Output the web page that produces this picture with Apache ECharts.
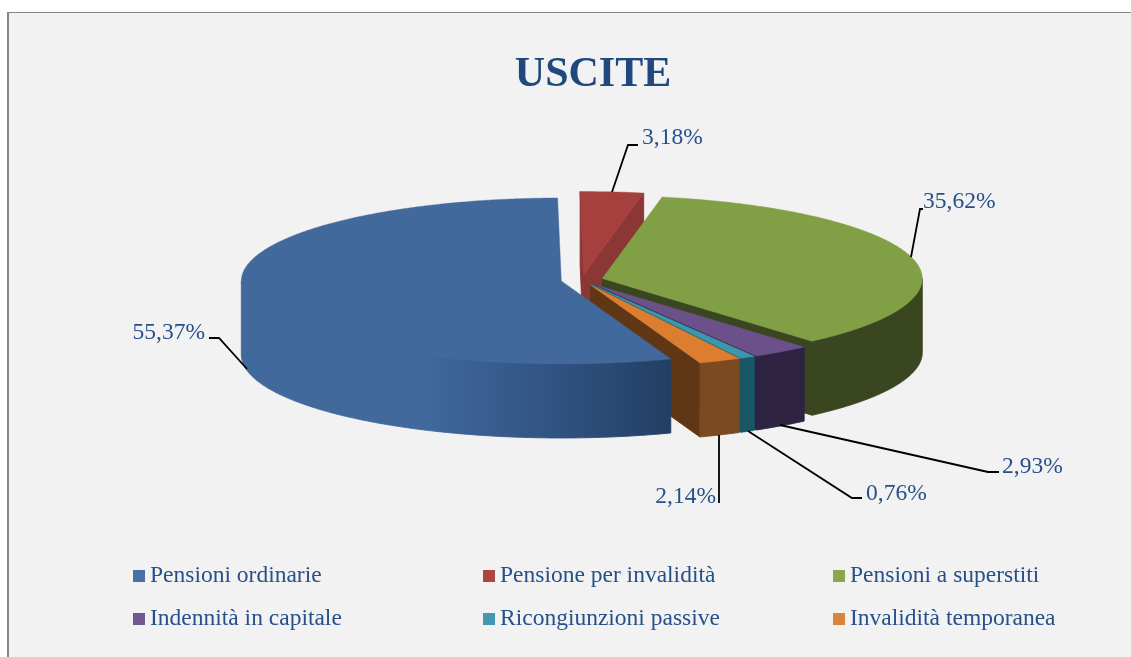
<!DOCTYPE html>
<html><head><meta charset="utf-8">
<style>html,body{margin:0;padding:0;background:#fff}#c{width:1131px;height:657px}</style>
<script src="https://cdn.jsdelivr.net/npm/echarts@6/dist/echarts.min.js"></script>
</head><body><div id="c"></div>
<script>
// ---- data ----
const chartTitle = 'USCITE';
const categories = ['Pensioni ordinarie','Pensione per invalidità','Pensioni a superstiti','Indennità in capitale','Ricongiunzioni passive','Invalidità temporanea'];
const shares = [55.37, 3.18, 35.62, 2.93, 0.76, 2.14];

// ---- styling and layout ----
const topColors  = ['#41699c','#a5403f','#81a046','#6c5089','#3d97ac','#dc7d2f'];
const legendColors = ['#4672a8','#aa4644','#8aa64e','#71588f','#4198af','#db843d'];
const wallColors = [null,'#883636','#3a4620','#2e2343','#1a5766','#7c4a20'];
const cutColors  = ['#223c60','#8a3735','#3a4620','#2e2343','#1a5766','#5f3715'];
const paintRank  = [5,0,1,2,3,4];
const pie = {cx:582, cy:280, rx:320, ry:83, depth:74, explode:21, squash:0.26, startDeg:160};
const serif = '"Liberation Serif","Times New Roman",serif';
const textColor = '#27508a';
const leaders = [
  {pts:[[247,369],[219,338],[209,338]], x:205, y:333, align:'right'},
  {pts:[[612,192],[628,145],[638,145]], x:642, y:138, align:'left'},
  {pts:[[911,257],[920,209],[923,209]], x:923, y:202, align:'left'},
  {pts:[[780,425],[988,472],[999,472]], x:1002, y:467, align:'left'},
  {pts:[[748,431],[852,498],[862,498]], x:866, y:494, align:'left'},
  {pts:[[719,435],[719,503]], x:716, y:497, align:'right'}
];
const legendSlots = [[133,564],[483,564],[833,564],[133,607],[483,607],[833,607]];

const total = shares.reduce((a,b)=>a+b,0);
const rad = d => d*Math.PI/180;
const bluePaint = new echarts.graphic.LinearGradient(0,0,1,0,[
  {offset:0,color:'#41699c'},{offset:0.42,color:'#41699c'},{offset:0.75,color:'#2f5180'},{offset:1,color:'#233e63'}]);

function sliceAngles(i){
  let a = pie.startDeg;
  // the slices run clockwise from the top; the first one starts at startDeg
  for(let k=0;k<i;k++) a += shares[k]/total*360;
  return [a, a + shares[i]/total*360];
}
function renderSlice(i){
  const [a0,a1] = sliceAngles(i);
  const mid = rad((a0+a1)/2);
  const ax = pie.cx + pie.explode*Math.sin(mid);
  const ay = pie.cy - pie.explode*pie.squash*Math.cos(mid);
  const at = d => [ax + pie.rx*Math.sin(rad(d)), ay - pie.ry*Math.cos(rad(d))];
  const down = p => [p[0], p[1]+pie.depth];
  const arc = (s,e) => { const out=[]; const n=Math.max(2,Math.ceil((e-s)*2));
    for(let k=0;k<=n;k++) out.push(at(s+(e-s)*k/n)); return out; };
  const kids = [];
  const poly = (points,fill,z2,lw) => kids.push({type:'polygon',shape:{points},style:{fill,stroke:fill,lineWidth:lw},z2,silent:true});
  // cut faces
  const norm = d => ((d%360)+360)%360;
  if(norm(a1) < 180) { const e=at(a1); poly([[ax,ay],e,down(e),[ax,ay+pie.depth]],cutColors[i],1,0.9); }
  if(norm(a0) > 180) { const e=at(a0); poly([[ax,ay],e,down(e),[ax,ay+pie.depth]],cutColors[i],1,0.9); }
  // outer wall: only the front half of the rim shows; its upper edge tucks under the top face
  for(const o of [0,360]){
    const s=Math.max(a0,90+o), e=Math.min(a1,270+o);
    if(e>s){ const up=arc(s,e); const lo=up.map(down).reverse();
      const tucked=up.map((p,k)=> (k===0||k===up.length-1)? p : [p[0]+(ax-p[0])*0.02, p[1]+(ay-p[1])*0.02]);
      poly(tucked.concat(lo), i===0?bluePaint:wallColors[i], 2, 0.9); }
  }
  // top
  poly([[ax,ay]].concat(arc(a0,a1)),topColors[i],3,0.4);
  // leader and label
  const L = leaders[i];
  kids.push({type:'polyline',shape:{points:L.pts},style:{stroke:'#000',lineWidth:1.8,fill:null},z2:4,silent:true});
  kids.push({type:'text',style:{text:shares[i].toFixed(2).replace('.',',')+'%',x:L.x,y:L.y,
    textAlign:L.align,textVerticalAlign:'middle',font:'23.5px '+serif,fill:textColor},z2:5,silent:true});
  return {type:'group',children:kids};
}

const chart = echarts.init(document.getElementById('c'),null,{renderer:'canvas'});
chart.setOption({
  animation:false,
  backgroundColor:'#ffffff',
  title:{text:chartTitle,left:588,top:49,textAlign:'center',
    textStyle:{fontFamily:serif,fontWeight:'bold',fontSize:42,color:'#1f497d'}},
  graphic:[
    {type:'rect',z:-10,shape:{x:7,y:12,width:1124,height:645},style:{fill:'#f2f2f2'},silent:true},
    {type:'rect',z:-9,shape:{x:7,y:12,width:1124,height:1},style:{fill:'#868686'},silent:true},
    {type:'rect',z:-9,shape:{x:7,y:12,width:2,height:645},style:{fill:'#868686'},silent:true}
  ],
  legend:categories.map((name,i)=>({
    data:[name],left:legendSlots[i][0],top:legendSlots[i][1],padding:0,
    icon:'rect',itemWidth:12,itemHeight:12,
    textStyle:{fontFamily:serif,fontSize:23.5,color:textColor},
    selectedMode:false
  })),
  series:categories.map((name,i)=>({
    type:'custom',name,coordinateSystem:'none',z:2+paintRank[i],
    itemStyle:{color:legendColors[i]},
    data:[shares[i]],
    renderItem:()=>renderSlice(i),
    silent:true,animation:false
  }))
});
</script></body></html>
